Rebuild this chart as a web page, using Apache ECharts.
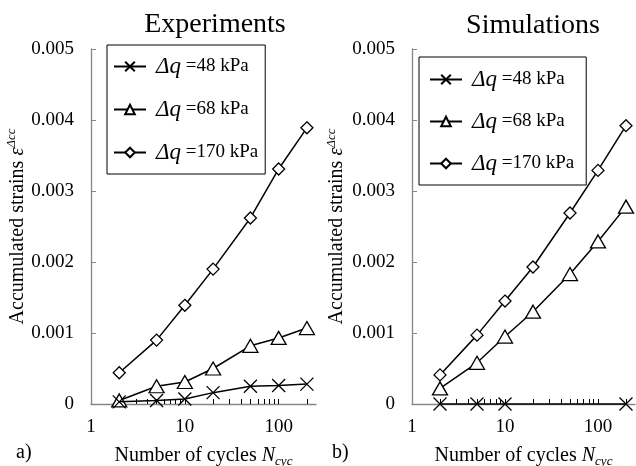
<!DOCTYPE html>
<html>
<head>
<meta charset="utf-8">
<script src="https://cdn.jsdelivr.net/npm/echarts@6/dist/echarts.min.js"></script>
<style>
html, body { margin: 0; padding: 0; background: #fff; }
#main { width: 636px; height: 466px; }
</style>
</head>
<body>
<div id="main"></div>
<script>
// number of cycles
const cycles = [2, 5, 10, 20, 50, 100, 200];
const cyclesSim48 = [2, 5, 10, 200];

// experiments
const exp48 = [0.00003, 0.00005, 0.00007, 0.00016, 0.00025, 0.00026, 0.00028];
const exp68 = [0.00005, 0.00025, 0.00031, 0.0005, 0.00082, 0.00093, 0.00107];
const exp170 = [0.00044, 0.0009, 0.00139, 0.0019, 0.00262, 0.00331, 0.00389];

// simulations
const sim48 = [0, 0, 0, 0];
const sim68 = [0.00022, 0.00058, 0.00095, 0.0013, 0.00183, 0.00229, 0.00278];
const sim170 = [0.00041, 0.00097, 0.00145, 0.00193, 0.00269, 0.00329, 0.00392];

const names = ['Δq =48 kPa', 'Δq =68 kPa', 'Δq =170 kPa'];
const xLabels = [1, 10, 100];
const xTicks = [2, 3, 4, 5, 6, 7, 8, 9, 10, 20, 30, 40, 50, 60, 70, 80, 90, 100, 200];

const font = 'Liberation Serif';
const axisColor = '#868686';

function pairs(xs, ys) {
  return xs.map((x, i) => [x, ys[i]]);
}

const crossPath = 'path://M0,0L10,10M10,0L0,10';

function makeSeries(name, data, idx) {
  let symbol = 'diamond', size = 12;
  if (name === names[0]) { symbol = crossPath; size = 13; }
  if (name === names[1]) { symbol = 'triangle'; size = [15, 13]; }
  return {
    name: name,
    type: 'line',
    xAxisIndex: idx,
    yAxisIndex: idx,
    data: data,
    symbol: symbol,
    symbolSize: size,
    showAllSymbol: true,
    clip: false,
    lineStyle: { color: '#000', width: 1.5 },
    itemStyle: { color: '#fff', borderColor: '#000', borderWidth: 1.3 },
    z: name === names[0] ? 3 : 2
  };
}

function xAxisOf(idx) {
  return {
    type: 'log',
    gridIndex: idx,
    logBase: 10,
    min: 1,
    max: 250,
    name: '{a|Number of cycles }{b|N}{c|cyc}',
    nameLocation: 'middle',
    nameGap: 40,
    nameTextStyle: {
      rich: {
        a: { fontFamily: font, fontSize: 20, color: '#000', lineHeight: 24 },
        b: { fontFamily: font, fontSize: 20, fontStyle: 'italic', color: '#000', lineHeight: 24 },
        c: { fontFamily: font, fontSize: 13, fontStyle: 'italic', color: '#000', verticalAlign: 'bottom', lineHeight: 24 }
      }
    },
    axisLine: { lineStyle: { color: axisColor, width: 1.3 } },
    axisTick: { show: true, inside: true, length: 5, customValues: xTicks, lineStyle: { color: '#000', width: 1 } },
    axisLabel: { customValues: xLabels, margin: 14, fontFamily: font, fontSize: 19, color: '#000' },
    splitLine: { show: false },
    minorTick: { show: false }
  };
}

function yAxisOf(idx, gap) {
  return {
    type: 'value',
    gridIndex: idx,
    min: 0,
    max: 0.005,
    interval: 0.001,
    name: '{a|Accumulated strains }{b|ε}{c|Δcc}',
    nameLocation: 'middle',
    nameRotate: 90,
    nameGap: gap,
    nameTextStyle: {
      rich: {
        a: { fontFamily: font, fontSize: 20, color: '#000', lineHeight: 24 },
        b: { fontFamily: font, fontSize: 20, fontStyle: 'italic', color: '#000', lineHeight: 24 },
        c: { fontFamily: font, fontSize: 13, fontStyle: 'italic', color: '#000', verticalAlign: 'top', lineHeight: 24 }
      }
    },
    axisLine: { show: true, lineStyle: { color: axisColor, width: 1.3 } },
    axisTick: { show: true, inside: true, length: 5, lineStyle: { color: axisColor } },
    axisLabel: {
      margin: 17, fontFamily: font, fontSize: 19, color: '#000',
      formatter: v => (v === 0 ? '0' : v.toFixed(3))
    },
    splitLine: { show: false }
  };
}

function legendOf(left, top, pad, gap) {
  return {
    orient: 'vertical',
    left: left,
    top: top,
    data: names,
    borderColor: '#000',
    borderWidth: 1,
    padding: pad,
    itemGap: gap,
    itemWidth: 32,
    itemHeight: 12,
    selectedMode: false,
    formatter: n => '{i|Δq}{n|' + n.slice(2) + '}',
    textStyle: {
      padding: [0, 0, 0, 5],
      rich: {
        i: { fontFamily: font, fontSize: 23, fontStyle: 'italic', color: '#000', lineHeight: 23 },
        n: { fontFamily: font, fontSize: 19, color: '#000', lineHeight: 23 }
      }
    }
  };
}

const chart = echarts.init(document.getElementById('main'), null, { renderer: 'canvas' });

const option = {
  backgroundColor: '#fff',
  animation: false,
  grid: [
    { left: 91, top: 49, width: 225, height: 355, outerBoundsMode: 'none', containLabel: false },
    { left: 412, top: 49, width: 223, height: 355, outerBoundsMode: 'none', containLabel: false }
  ],
  xAxis: [xAxisOf(0), xAxisOf(1)],
  yAxis: [yAxisOf(0, 61), yAxisOf(1, 63)],
  legend: [
    legendOf(107, 45, [10, 7, 10, 6], 20),
    legendOf(419, 57, [11, 12, 10, 10], 19)
  ],
  graphic: [
    { type: 'text', x: 215, y: 25, style: { text: 'Experiments', font: '28px "Liberation Serif"', fill: '#000', textAlign: 'center', textVerticalAlign: 'middle' } },
    { type: 'text', x: 533, y: 26, style: { text: 'Simulations', font: '28px "Liberation Serif"', fill: '#000', textAlign: 'center', textVerticalAlign: 'middle' } },
    { type: 'text', x: 16, y: 453, style: { text: 'a)', font: '20px "Liberation Serif"', fill: '#000', textAlign: 'left', textVerticalAlign: 'middle' } },
    { type: 'text', x: 332, y: 453, style: { text: 'b)', font: '20px "Liberation Serif"', fill: '#000', textAlign: 'left', textVerticalAlign: 'middle' } }
  ],
  series: [
    makeSeries(names[0], pairs(cycles, exp48), 0),
    makeSeries(names[1], pairs(cycles, exp68), 0),
    makeSeries(names[2], pairs(cycles, exp170), 0),
    makeSeries(names[0], pairs(cyclesSim48, sim48), 1),
    makeSeries(names[1], pairs(cycles, sim68), 1),
    makeSeries(names[2], pairs(cycles, sim170), 1)
  ]
};

chart.setOption(option);
</script>
</body>
</html>
